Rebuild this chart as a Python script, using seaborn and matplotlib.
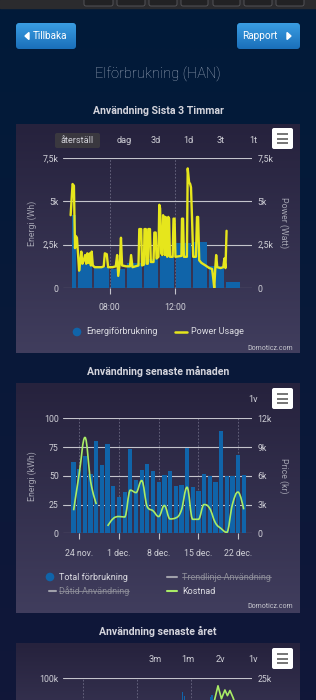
import numpy as np
import pandas as pd
import matplotlib
matplotlib.use("Agg")
import matplotlib.pyplot as plt
import matplotlib.dates as mdates
from matplotlib.patches import FancyBboxPatch, Rectangle, PathPatch, Polygon, Circle
from matplotlib.path import Path
import seaborn as sns

# ---------------- data: Användning Sista 3 Timmar ----------------
energy_hour = ["05:38", "06:00", "07:00", "08:00", "09:00", "10:00",
               "11:00", "12:00", "13:00", "14:00", "15:00"]
energy_wh = [4200, 1400, 1200, 1100, 1450, 1650, 1850, 2600, 2650, 1250, 350]

power_time = ["05:37", "05:44", "05:49", "05:53", "05:56", "06:00", "06:03", "06:08",
              "06:12", "06:16", "06:20", "06:25", "06:30", "06:34", "06:38", "06:42",
              "06:47", "06:51", "06:54", "06:58", "07:05", "07:30", "07:38", "07:42",
              "07:49", "07:54", "08:10", "08:22", "08:27", "08:31", "08:37", "08:41",
              "08:45", "09:00", "09:14", "09:18", "09:23", "09:45", "09:48", "09:55",
              "09:58", "10:05", "10:07", "10:12", "10:15", "10:19", "10:21", "10:27",
              "10:30", "10:40", "10:43", "10:48", "10:51", "10:58", "11:01", "11:04",
              "11:08", "11:12", "11:15", "11:19", "11:22", "11:24", "11:28", "11:30",
              "11:34", "11:37", "11:40", "11:50", "11:53", "11:57", "12:00", "12:22",
              "12:24", "12:28", "12:31", "12:42", "12:45", "12:50", "12:54", "12:57",
              "13:01", "13:05", "13:15", "13:19", "13:23", "13:27", "13:35", "13:50",
              "14:04", "14:14", "14:18", "14:22", "14:26", "14:29", "14:33", "14:45",
              "14:55", "14:59", "15:03", "15:07"]
power_w = [4200, 6000, 5900, 2300, 3000, 2900, 2200, 1000,
           1500, 2100, 1400, 1600, 1900, 1400, 2000, 1450,
           2000, 1300, 2100, 1300, 1200, 1200, 1250, 2000,
           1950, 1200, 1200, 1250, 1900, 700, 1500, 2900,
           1300, 1250, 1250, 1900, 1200, 1300, 3400, 3400,
           1300, 1350, 3400, 3400, 1400, 1400, 3400, 3400,
           1500, 1500, 3200, 3200, 1700, 1800, 4800, 4600,
           2000, 1900, 4200, 4000, 1900, 4100, 4000, 1800,
           4100, 4000, 1800, 1800, 4000, 4000, 1800, 1850,
           4000, 4000, 1800, 1800, 6900, 6100, 6000, 5800,
           3900, 1800, 1800, 4100, 4100, 1600, 1450, 1300,
           1150, 1100, 600, 0, 1200, 1900, 1200, 1150,
           1200, 1700, 1150, 3300]
hour_ticks = ["08:00", "12:00"]
wh_ticks = [0, 2500, 5000, 7500]
wh_labels = ["0", "2,5k", "5k", "7,5k"]

# ---------------- data: Användning senaste månaden ----------------
month_days = pd.date_range("2023-11-23", "2023-12-23", freq="D")
month_kwh = [62, 56, 67, 52, 80, 59, 78, 41, 32, 36, 73, 46, 55, 60, 54, 45,
             51, 54, 41, 42, 74, 40, 37, 52, 50, 45, 89, 50, 50, 68, 51]
month_kr = [2400, 6300, 10000, 5400, 3050, np.nan, 770, 1550, 1750, 1700, 4500,
            4250, 5500, 2750, 2350, 1750, 2900, 1500, 1600, 2400, 4800, 1460,
            1460, 3000, 2600, 1100, 500, 100, 3000, 4300, 2500]
month_tick_days = ["2023-11-24", "2023-12-01", "2023-12-08", "2023-12-15", "2023-12-22"]
month_tick_labels = ["24 nov.", "1 dec.", "8 dec.", "15 dec.", "22 dec."]
kwh_ticks = [0, 25, 50, 75, 100]
kr_ticks = [0, 3000, 6000, 9000, 12000]
kr_labels = ["0", "3k", "6k", "9k", "12k"]

# ---------------- data: Användning senaste året (only the top is on screen) ----------------
year_bar_week = [38, 38.6, 46.7, 47.3]
year_kwh = [89000, 86000, 85500, 87000]
year_line_week = [48.0, 49.2, 50.3, 51.4, 52.2, 53.0, 54.0, 55.0]
year_kr = [20500, 23500, 21000, 22700, 21600, 22600, 21200, 19500]

BLUE = "#1064a9"
YELLOW = "#e6e61c"
GREEN = "#a9ec66"
GRID = "#c4c4cc"
VGRID = "#6c6a84"
TICK = "#cfcfd6"
AXT = "#a2a2b0"

W, H = 316, 700
sns.set_theme(style="white")
plt.rcParams["font.family"] = ["Roboto", "DejaVu Sans"]
fig = plt.figure(figsize=(W / 100, H / 100), dpi=100)


def px(x0, y0, x1, y1):
    return [x0 / W, 1 - y1 / H, (x1 - x0) / W, (y1 - y0) / H]


def hours(t):
    return np.array([int(s[:2]) + int(s[3:]) / 60 for s in t])


bg = fig.add_axes([0, 0, 1, 1], zorder=0)
bg.axis("off")


def vgrad(x0, y0, x1, y1, c0, c1, clip=None):
    cm = matplotlib.colors.LinearSegmentedColormap.from_list("g", [c0, c1])
    im = bg.imshow(np.linspace(0, 1, 64)[:, None], cmap=cm, extent=(x0, x1, y1, y0),
                   origin="upper", aspect="auto", interpolation="bilinear")
    if clip is not None:
        im.set_clip_path(clip)
    return im


vgrad(0, 0, W, H, "#011b3a", "#111739")
bg.add_patch(Rectangle((0, 0), W, 8, color="#2b2b2e"))
for x0, x1 in [(84, 113), (117, 145), (149, 177), (181, 208), (213, 240), (244, 272), (276, 304)]:
    bg.add_patch(FancyBboxPatch((x0, -6), x1 - x0, 12, boxstyle="round,pad=0,rounding_size=2",
                                fc="#222224", ec="#5a5a5e", lw=0.6))

# header buttons
for x0, x1, label, tx in [(16, 76, "Tillbaka", 33), (237, 300, "Rapport", 242)]:
    p = FancyBboxPatch((x0, 23), x1 - x0, 26, boxstyle="round,pad=0,rounding_size=3",
                       fc="none", ec="none")
    bg.add_patch(p)
    vgrad(x0, 23, x1, 49, "#3a9de2", "#1a6fba", clip=p)
    bg.text(tx, 36, label, color="white", fontsize=7.2, va="center", ha="left")
bg.add_patch(Polygon([[29, 32.5], [29, 39.5], [25, 36]], color="white"))
bg.add_patch(Polygon([[287, 32.5], [287, 39.5], [291, 36]], color="white"))

bg.text(158, 74, "Elförbrukning (HAN)", color="#9ca8bb", fontsize=10.5,
        fontweight="light", ha="center", va="center")

# panels
for y0, y1, title, ty in [(124, 353, "Användning Sista 3 Timmar", 111),
                          (383, 613, "Användning senaste månaden", 371),
                          (643, 760, "Användning senaste året", 631)]:
    vgrad(16, y0, 300, y1, "#26223d", "#403d5d")
    bg.text(158, ty, title, color="#d4d4dc", fontsize=7.6, fontweight="bold",
            ha="center", va="center")


def menu(y0):
    bg.add_patch(FancyBboxPatch((272, y0), 21, 21, boxstyle="round,pad=0,rounding_size=2",
                                fc="white", ec="none"))
    for dy in (6, 10.5, 15):
        bg.plot([277, 288], [y0 + dy, y0 + dy], color="#6a6a6a", lw=1.3,
                solid_capstyle="butt")


def buttons(y, items):
    for x, s in items:
        bg.text(x, y, s, color=TICK, fontsize=6.6, ha="center", va="center")


bg.add_patch(FancyBboxPatch((55, 133), 45, 15, boxstyle="round,pad=0,rounding_size=2",
                            fc="#3a383f", ec="none"))
buttons(140.5, [(77.5, "återställ"), (124, "dag"), (156, "3d"), (188, "1d"), (221, "3t"), (253, "1t")])
menu(128)
buttons(399, [(253, "1v")])
menu(388)
buttons(659, [(155, "3m"), (188, "1m"), (220, "2v"), (253, "1v")])
menu(648)

for y in (348, 607):
    bg.text(293, y, "Domoticz.com", color="#c4c4cc", fontsize=5, ha="right", va="center")


def style_axes(ax):
    ax.set_facecolor("none")
    for s in ax.spines.values():
        s.set_visible(False)
    ax.set_xlabel("")
    ax.set_ylabel("")


# ---------------- chart 1 ----------------
ax1 = fig.add_axes(px(63, 158, 252, 288), zorder=2)
style_axes(ax1)
starts = hours(energy_hour)
ends = np.floor(starts) + 1
ax1.bar(starts + 0.06, energy_wh, width=(ends - starts) - 0.12, align="edge",
        color=BLUE, edgecolor="none", linewidth=0, zorder=2)
sns.lineplot(x=hours(power_time), y=power_w, ax=ax1, color=YELLOW, lw=1.7, zorder=3)
ax1.set_xlim(8 - 47 / 16.5, 12 + 77 / 16.5)
ax1.set_ylim(0, 7500)
ax1.set_yticks(wh_ticks, wh_labels)
ax1.set_xticks(hours(hour_ticks), hour_ticks)
ax1.yaxis.grid(True, color=GRID, lw=0.8)
ax1.xaxis.grid(True, color=VGRID, lw=0.6, ls=(0, (2, 2)))
ax1.set_axisbelow(True)
ax1.tick_params(axis="y", length=0, labelsize=6.3, labelcolor=TICK, pad=3)
ax1.tick_params(axis="x", bottom=True, length=4, width=0.8, color=GRID, labelsize=6.3,
                labelcolor=TICK, pad=7)
ax1r = ax1.twinx()
style_axes(ax1r)
ax1r.set_ylim(0, 7500)
ax1r.set_yticks(wh_ticks, wh_labels)
ax1r.tick_params(axis="y", length=0, labelsize=6.3, labelcolor=TICK, pad=4)
ax1r.grid(False)

bg.text(32, 223, "Energi (Wh)", rotation=90, color=AXT, fontsize=6.3, ha="center", va="center")
bg.text(284, 223, "Power (Watt)", rotation=270, color=AXT, fontsize=6.3, ha="center", va="center")

bg.add_patch(Circle((77, 332), 3.6, color=BLUE))
bg.text(86, 332, "Energiförbrukning", color="#dcdce2", fontsize=6.5, va="center")
bg.plot([175, 187], [332, 332], color=YELLOW, lw=1.8)
bg.text(191, 332, "Power Usage", color="#dcdce2", fontsize=6.5, va="center")


# ---------------- chart 2 ----------------
def spline_path(x, y):
    verts, codes = [], []
    segs, cur = [], []
    for xi, yi in zip(x, y):
        if np.isnan(yi):
            if cur:
                segs.append(cur)
            cur = []
        else:
            cur.append((xi, yi))
    if cur:
        segs.append(cur)
    for pts in segs:
        n = len(pts)
        left, right = list(pts), list(pts)
        for i in range(1, n - 1):
            (lx, ly), (px_, py), (nx, ny) = pts[i - 1], pts[i], pts[i + 1]
            lcx, lcy = (1.5 * px_ + lx) / 2.5, (1.5 * py + ly) / 2.5
            rcx, rcy = (1.5 * px_ + nx) / 2.5, (1.5 * py + ny) / 2.5
            corr = (rcy - lcy) * (rcx - px_) / (rcx - lcx) + py - rcy
            lcy += corr
            rcy += corr
            if lcy > ly and lcy > py:
                lcy = max(ly, py)
                rcy = 2 * py - lcy
            elif lcy < ly and lcy < py:
                lcy = min(ly, py)
                rcy = 2 * py - lcy
            if rcy > ny and rcy > py:
                rcy = max(ny, py)
                lcy = 2 * py - rcy
            elif rcy < ny and rcy < py:
                rcy = min(ny, py)
                lcy = 2 * py - rcy
            left[i], right[i] = (lcx, lcy), (rcx, rcy)
        verts.append(pts[0])
        codes.append(Path.MOVETO)
        for i in range(1, n):
            verts += [right[i - 1], left[i], pts[i]]
            codes += [Path.CURVE4] * 3
    return Path(verts, codes)


ax2 = fig.add_axes(px(63, 418.3, 252, 533.3), zorder=2)
style_axes(ax2)
mx = mdates.date2num(month_days)
sns.barplot(x=mx, y=month_kwh, native_scale=True, width=0.76, color=BLUE,
            saturation=1, errorbar=None, ax=ax2, zorder=2, edgecolor="none", linewidth=0)
style_axes(ax2)
d24 = mdates.date2num(pd.Timestamp("2023-11-24"))
ax2.set_xlim(d24 - 16.3 / 5.67, d24 + 172.7 / 5.67)
ax2.set_ylim(0, 100)
ax2.set_yticks(kwh_ticks, [str(v) for v in kwh_ticks])
ax2.set_xticks(mdates.date2num(pd.to_datetime(month_tick_days)), month_tick_labels)
ax2.yaxis.grid(True, color=GRID, lw=0.8)
ax2.xaxis.grid(True, color=VGRID, lw=0.6, ls=(0, (2, 2)))
ax2.set_axisbelow(True)
ax2.tick_params(axis="y", length=0, labelsize=6.3, labelcolor=TICK, pad=3)
ax2.tick_params(axis="x", bottom=True, length=4, width=0.8, color=GRID, labelsize=6.3,
                labelcolor=TICK, pad=7)
ax2r = ax2.twinx()
style_axes(ax2r)
ax2r.set_ylim(0, 12000)
ax2r.set_yticks(kr_ticks, kr_labels)
ax2r.tick_params(axis="y", length=0, labelsize=6.3, labelcolor=TICK, pad=4)
ax2r.grid(False)
ax2r.add_patch(PathPatch(spline_path(mx, np.array(month_kr, dtype=float)), fc="none",
                         ec=GREEN, lw=1.2, zorder=3))

bg.text(32, 476, "Energi (kWh)", rotation=90, color=AXT, fontsize=6.3, ha="center", va="center")
bg.text(284, 476, "Price (kr)", rotation=270, color=AXT, fontsize=6.3, ha="center", va="center")

bg.add_patch(Circle((50, 577), 3.6, color=BLUE))
bg.text(59, 577, "Total förbrukning", color="#dcdce2", fontsize=6.5, va="center")
bg.plot([167, 177], [577, 577], color="#a0a0aa", lw=1.5)
t_trend = bg.text(182, 577, "Trendlinje Användning", color="#8c8c98", fontsize=6.5, va="center")
bg.plot([49, 56], [591, 591], color="#a0a0aa", lw=1.5)
t_dat = bg.text(59, 591, "Dåtid Användning", color="#8c8c98", fontsize=6.5, va="center")
bg.plot([167, 177], [591, 591], color=GREEN, lw=1.5)
bg.text(182, 591, "Kostnad", color="#dcdce2", fontsize=6.5, va="center")

# ---------------- chart 3 (cut off by the screen) ----------------
ax3 = fig.add_axes(px(63, 678, 252, 808), zorder=2)
style_axes(ax3)
ax3.bar(year_bar_week, year_kwh, width=0.35, color=BLUE, edgecolor="none", linewidth=0, zorder=2)
ax3r = ax3.twinx()
style_axes(ax3r)
sns.lineplot(x=year_line_week, y=year_kr, ax=ax3r, color=GREEN, lw=1.2)
style_axes(ax3r)
ax3.set_xlim(0, 60)
ax3.set_ylim(0, 100000)
ax3r.set_ylim(0, 25000)
ax3.set_yticks([100000], ["100k"])
ax3r.set_yticks([25000], ["25k"])
ax3.set_xticks([6.35, 23.5, 40.6])
ax3.tick_params(axis="x", labelbottom=False, length=0)
ax3.yaxis.grid(True, color=GRID, lw=0.8)
ax3.xaxis.grid(True, color=VGRID, lw=0.6, ls=(0, (2, 2)))
ax3.set_axisbelow(True)
ax3r.grid(False)
ax3.tick_params(axis="y", length=0, labelsize=6.3, labelcolor=TICK, pad=3)
ax3r.tick_params(axis="y", length=0, labelsize=6.3, labelcolor=TICK, pad=4)

bg.set_xlim(0, W)
bg.set_ylim(H, 0)

fig.canvas.draw()
inv = bg.transData.inverted()
for t in (t_trend, t_dat):
    bb = t.get_window_extent()
    (x0, ya), (x1, yb) = inv.transform([[bb.x0, bb.y0], [bb.x1, bb.y1]])
    ym = (ya + yb) / 2 + 0.3
    bg.plot([x0, x1], [ym, ym], color="#8c8c98", lw=0.6)
bg.set_xlim(0, W)
bg.set_ylim(H, 0)

fig.savefig("out.png", dpi=100, facecolor="#011b3a")
